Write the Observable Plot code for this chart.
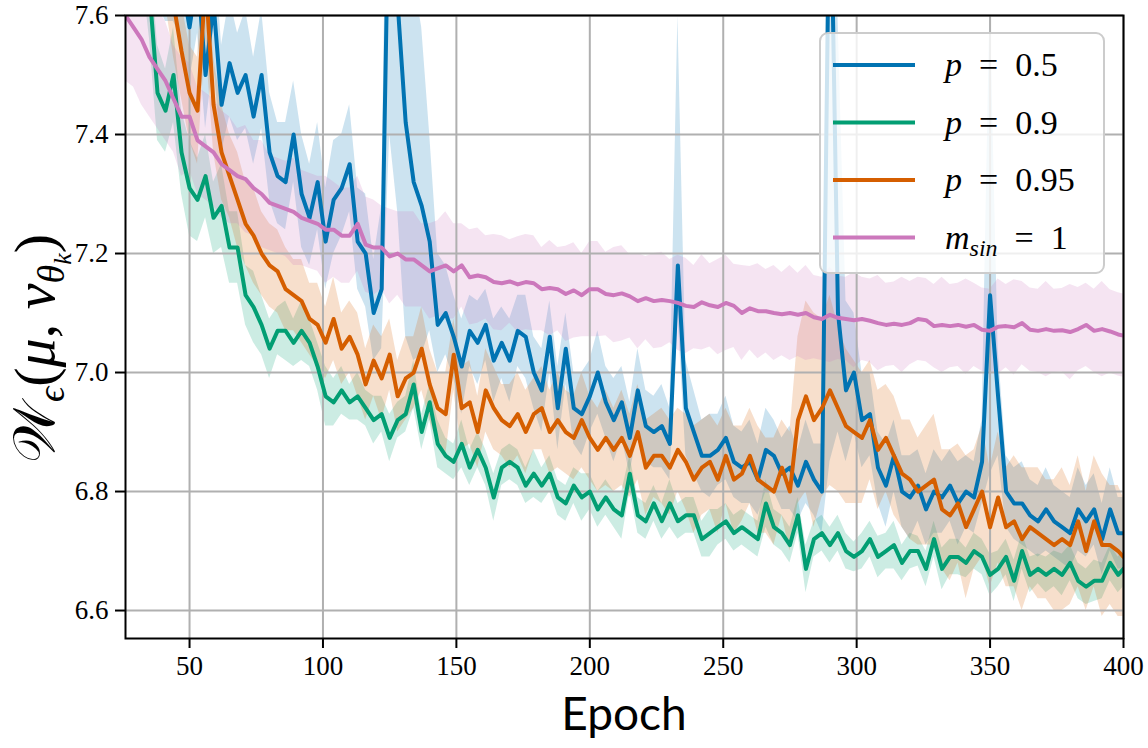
<!DOCTYPE html>
<html><head><meta charset="utf-8">
<script src="https://cdn.jsdelivr.net/npm/d3@7"></script>
<script src="https://cdn.jsdelivr.net/npm/@observablehq/plot@0.6"></script>
<style>body{margin:0;background:#fff}#chart{width:1148px;height:748px}</style>
</head><body><div id="chart"></div>
<script>
// epochs sampled every 3 epochs
const epochs = d3.range(26, 400, 3).concat([400]);

const xTicks = [50, 100, 150, 200, 250, 300, 350, 400];
const yTicks = [6.6, 6.8, 7.0, 7.2, 7.4, 7.6];

const names = ["p = 0.5", "p = 0.9", "p = 0.95", "m_sin = 1"];
const colors = ["#0173b2", "#029e73", "#d55e00", "#cc78bc"];
const legendVar = ["p", "p", "p", "m"];
const legendSub = ["", "", "", "sin"];
const legendVal = ["0.5", "0.9", "0.95", "1"];

const blueMean = [
7.85,7.80,7.78,7.75,7.72,7.70,7.69,7.66,7.58,7.67,
7.50,7.62,7.45,7.52,7.47,7.50,7.43,7.50,7.37,7.33,
7.32,7.40,7.30,7.26,7.32,7.22,7.29,7.31,7.35,7.22,
7.20,7.10,7.14,7.90,7.62,7.42,7.32,7.28,7.22,7.08,
7.10,7.06,7.01,7.07,7.05,7.08,7.02,7.05,7.02,7.07,
7.06,7.00,6.97,7.06,6.94,7.04,6.94,6.93,6.96,7.00,
6.95,6.92,6.95,6.89,6.97,6.91,6.90,6.91,6.88,7.18,
6.94,6.90,6.86,6.86,6.87,6.89,6.85,6.84,6.85,6.82,
6.87,6.86,6.83,6.84,6.81,6.85,6.82,6.80,7.90,7.10,
6.97,7.00,6.92,6.93,6.84,6.81,6.86,6.80,6.79,6.81,
6.77,6.80,6.79,6.81,6.78,6.80,6.79,6.85,7.13,6.96,
6.80,6.78,6.78,6.76,6.75,6.77,6.75,6.74,6.73,6.77,
6.75,6.77,6.72,6.77,6.73,6.73];
const blueHi = [
0.12,0.12,0.13,0.12,0.12,0.13,0.12,0.12,0.11,0.12,
0.11,0.12,0.10,0.11,0.10,0.11,0.10,0.11,0.10,0.09,
0.10,0.09,0.10,0.09,0.10,0.09,0.10,0.09,0.10,0.09,
0.10,0.09,0.14,0.30,0.30,0.36,0.34,0.30,0.18,0.12,
0.08,0.07,0.08,0.06,0.07,0.06,0.07,0.06,0.07,0.06,
0.07,0.06,0.07,0.06,0.07,0.06,0.06,0.07,0.06,0.07,
0.06,0.07,0.06,0.06,0.07,0.06,0.06,0.07,0.06,0.42,
0.08,0.07,0.06,0.07,0.06,0.07,0.06,0.06,0.07,0.06,
0.07,0.06,0.06,0.07,0.06,0.07,0.06,0.08,0.30,0.50,
0.15,0.10,0.08,0.07,0.06,0.07,0.06,0.06,0.07,0.06,
0.06,0.07,0.06,0.06,0.07,0.06,0.06,0.07,0.50,0.08,
0.06,0.06,0.07,0.06,0.06,0.07,0.06,0.06,0.06,0.07,
0.06,0.06,0.06,0.07,0.06,0.06];
const blueLo = [
0.10,0.10,0.11,0.10,0.10,0.11,0.10,0.10,0.09,0.10,
0.09,0.10,0.08,0.09,0.08,0.09,0.08,0.09,0.08,0.08,
0.08,0.08,0.09,0.08,0.08,0.08,0.09,0.08,0.08,0.08,
0.09,0.08,0.10,0.50,0.35,0.36,0.30,0.25,0.15,0.08,
0.07,0.07,0.08,0.06,0.07,0.06,0.07,0.06,0.07,0.06,
0.07,0.06,0.07,0.06,0.07,0.06,0.06,0.07,0.06,0.07,
0.06,0.07,0.06,0.06,0.07,0.06,0.06,0.07,0.06,0.08,
0.08,0.07,0.06,0.07,0.06,0.07,0.06,0.06,0.07,0.06,
0.07,0.06,0.06,0.07,0.06,0.07,0.06,0.07,1.05,0.20,
0.12,0.10,0.08,0.07,0.06,0.07,0.06,0.06,0.07,0.06,
0.06,0.07,0.06,0.06,0.07,0.06,0.06,0.07,0.30,0.10,
0.06,0.06,0.07,0.06,0.06,0.07,0.06,0.06,0.06,0.07,
0.06,0.06,0.06,0.07,0.06,0.06];

const greenMean = [
7.90,7.84,7.76,7.64,7.47,7.44,7.50,7.37,7.31,7.29,
7.33,7.26,7.28,7.21,7.21,7.13,7.11,7.08,7.04,7.07,
7.07,7.05,7.07,7.05,7.01,6.96,6.95,6.97,6.95,6.96,
6.94,6.92,6.93,6.89,6.92,6.93,6.98,6.90,6.95,6.88,
6.86,6.85,6.88,6.84,6.87,6.84,6.79,6.84,6.85,6.84,
6.81,6.83,6.81,6.83,6.79,6.78,6.81,6.79,6.80,6.77,
6.79,6.77,6.76,6.83,6.76,6.75,6.78,6.75,6.78,6.75,
6.76,6.76,6.72,6.73,6.74,6.75,6.73,6.74,6.73,6.72,
6.78,6.74,6.73,6.71,6.76,6.67,6.72,6.73,6.71,6.73,
6.70,6.69,6.70,6.72,6.69,6.70,6.71,6.68,6.70,6.70,
6.67,6.72,6.67,6.69,6.69,6.68,6.70,6.69,6.66,6.67,
6.69,6.65,6.70,6.66,6.67,6.66,6.67,6.66,6.68,6.65,
6.64,6.65,6.65,6.68,6.66,6.67];
const greenSpread = [
0.08,0.08,0.08,0.08,0.08,0.07,0.08,0.07,0.08,0.07,
0.07,0.06,0.07,0.06,0.06,0.05,0.06,0.05,0.05,0.04,
0.05,0.04,0.05,0.04,0.04,0.05,0.04,0.04,0.03,0.04,
0.03,0.04,0.03,0.04,0.03,0.03,0.04,0.03,0.03,0.04,
0.03,0.03,0.04,0.03,0.03,0.03,0.04,0.03,0.03,0.03,
0.03,0.04,0.03,0.03,0.03,0.03,0.03,0.04,0.03,0.03,
0.03,0.03,0.04,0.03,0.03,0.03,0.03,0.03,0.04,0.03,
0.03,0.03,0.03,0.04,0.03,0.03,0.03,0.03,0.03,0.03,
0.04,0.03,0.03,0.03,0.03,0.04,0.03,0.03,0.03,0.03,
0.03,0.025,0.03,0.03,0.035,0.03,0.04,0.03,0.03,0.025,
0.03,0.03,0.035,0.03,0.03,0.025,0.03,0.03,0.035,0.03,
0.03,0.035,0.03,0.03,0.025,0.03,0.03,0.035,0.03,0.03,
0.03,0.035,0.03,0.03,0.03,0.03];

const orangeMean = [
7.95,7.92,7.88,7.84,7.78,7.70,7.62,7.54,7.47,7.44,
7.66,7.45,7.37,7.33,7.29,7.25,7.23,7.20,7.18,7.17,
7.14,7.13,7.12,7.09,7.08,7.05,7.09,7.04,7.06,7.03,
6.98,7.02,6.99,7.03,6.96,6.99,7.00,7.04,6.98,6.94,
6.93,7.03,6.94,6.95,6.90,6.97,6.94,6.92,6.91,6.93,
6.90,6.93,6.94,6.90,6.92,6.90,6.89,6.92,6.89,6.87,
6.89,6.87,6.89,6.86,6.90,6.84,6.86,6.86,6.84,6.87,
6.85,6.82,6.84,6.85,6.82,6.86,6.82,6.83,6.86,6.82,
6.81,6.80,6.84,6.80,6.92,6.96,6.92,6.94,6.97,6.94,
6.91,6.90,6.89,6.92,6.87,6.89,6.86,6.83,6.82,6.80,
6.81,6.82,6.77,6.76,6.78,6.74,6.77,6.80,6.74,6.79,
6.74,6.75,6.72,6.74,6.73,6.72,6.71,6.72,6.71,6.75,
6.70,6.75,6.71,6.71,6.70,6.69];
const orangeSpread = [
0.09,0.09,0.09,0.09,0.09,0.08,0.09,0.08,0.08,0.09,
0.10,0.08,0.08,0.07,0.08,0.07,0.08,0.07,0.07,0.07,
0.07,0.06,0.07,0.06,0.07,0.06,0.07,0.06,0.06,0.07,
0.06,0.06,0.07,0.06,0.06,0.07,0.06,0.07,0.06,0.06,
0.07,0.06,0.07,0.07,0.06,0.07,0.07,0.06,0.07,0.07,
0.07,0.06,0.07,0.07,0.08,0.07,0.07,0.08,0.07,0.07,
0.08,0.07,0.08,0.07,0.08,0.08,0.07,0.08,0.08,0.07,
0.08,0.09,0.08,0.08,0.09,0.08,0.09,0.08,0.08,0.09,
0.08,0.09,0.08,0.10,0.14,0.16,0.18,0.15,0.16,0.14,
0.13,0.12,0.11,0.10,0.10,0.09,0.10,0.09,0.10,0.09,
0.10,0.11,0.10,0.11,0.10,0.12,0.10,0.11,0.10,0.11,
0.10,0.11,0.12,0.10,0.11,0.10,0.11,0.12,0.10,0.11,
0.10,0.11,0.12,0.10,0.11,0.10];

const pinkMean = [
7.60,7.58,7.56,7.53,7.51,7.49,7.46,7.43,7.43,7.39,
7.38,7.37,7.35,7.34,7.33,7.325,7.31,7.30,7.285,7.28,
7.275,7.27,7.26,7.255,7.25,7.24,7.24,7.23,7.23,7.25,
7.215,7.21,7.21,7.195,7.20,7.19,7.19,7.18,7.17,7.175,
7.18,7.17,7.18,7.16,7.163,7.16,7.152,7.15,7.153,7.148,
7.152,7.15,7.14,7.142,7.14,7.132,7.138,7.13,7.14,7.14,
7.132,7.13,7.133,7.128,7.12,7.125,7.12,7.122,7.12,7.117,
7.112,7.11,7.118,7.113,7.11,7.117,7.112,7.10,7.108,7.103,
7.103,7.10,7.098,7.10,7.097,7.10,7.093,7.09,7.097,7.092,
7.09,7.088,7.09,7.087,7.083,7.08,7.082,7.08,7.083,7.09,
7.088,7.078,7.08,7.078,7.08,7.077,7.08,7.072,7.07,7.077,
7.078,7.076,7.083,7.072,7.07,7.073,7.07,7.071,7.068,7.073,
7.08,7.07,7.073,7.069,7.064,7.062];
const pinkSpread = [
0.11,0.10,0.11,0.10,0.10,0.10,0.09,0.10,0.09,0.09,
0.09,0.09,0.09,0.09,0.08,0.09,0.08,0.09,0.08,0.08,
0.08,0.09,0.08,0.08,0.08,0.09,0.08,0.08,0.08,0.08,
0.08,0.08,0.07,0.08,0.07,0.08,0.08,0.07,0.08,0.08,
0.09,0.08,0.07,0.08,0.08,0.07,0.08,0.08,0.07,0.08,
0.08,0.08,0.07,0.08,0.07,0.08,0.08,0.07,0.08,0.08,
0.07,0.08,0.08,0.07,0.08,0.07,0.08,0.08,0.07,0.08,
0.08,0.07,0.08,0.07,0.08,0.08,0.07,0.08,0.07,0.08,
0.07,0.08,0.07,0.08,0.07,0.08,0.07,0.07,0.08,0.07,
0.07,0.08,0.07,0.07,0.08,0.07,0.07,0.08,0.07,0.07,
0.07,0.07,0.08,0.07,0.07,0.08,0.07,0.07,0.07,0.08,
0.07,0.08,0.07,0.07,0.07,0.08,0.07,0.07,0.08,0.07,
0.07,0.07,0.08,0.07,0.07,0.07];

function rows(mean, lo, hi) {
  return epochs.map((e, i) => ({epoch: e, v: mean[i], lo: mean[i] - lo[i], hi: mean[i] + hi[i]}));
}
const series = [
  rows(blueMean, blueLo, blueHi),
  rows(greenMean, greenSpread, greenSpread),
  rows(orangeMean, orangeSpread, orangeSpread),
  rows(pinkMean, pinkSpread, pinkSpread)
];

const plot = Plot.plot({
  width: 1148, height: 748,
  marginLeft: 125, marginRight: 25, marginTop: 15, marginBottom: 110,
  x: {domain: [26, 400]},
  y: {domain: [6.553, 7.6]},
  style: {fontFamily: "'Liberation Serif', serif", fontSize: "27px", color: "black", background: "white"},
  marks: [
    ...series.map((d, i) => Plot.areaY(d, {x: "epoch", y1: "lo", y2: "hi", fill: colors[i], fillOpacity: 0.2, clip: true})),
    Plot.gridX({ticks: xTicks, stroke: "#b0b0b0", strokeOpacity: 1, strokeWidth: 2}),
    Plot.gridY({ticks: yTicks, stroke: "#b0b0b0", strokeOpacity: 1, strokeWidth: 2}),
    ...series.map((d, i) => Plot.lineY(d, {x: "epoch", y: "v", stroke: colors[i], strokeWidth: 4, clip: true})),
    Plot.frame({stroke: "black", strokeWidth: 2}),
    Plot.axisX({ticks: xTicks, tickSize: 10, tickPadding: 7, fontSize: 27, fontFamily: "'Liberation Serif', serif", label: null, strokeWidth: 2, tickFormat: d => String(d)}),
    Plot.axisY({ticks: yTicks, tickSize: 10, tickPadding: 7, fontSize: 27, fontFamily: "'Liberation Serif', serif", label: null, strokeWidth: 2, tickFormat: d3.format(".1f")})
  ]
});
document.getElementById("chart").appendChild(plot);

const svg = d3.select(plot);
const xs = plot.scale("x"), ys = plot.scale("y");
const cx = (xs.range[0] + xs.range[1]) / 2;
const cy = (ys.range[0] + ys.range[1]) / 2;

// x label
svg.append("text").attr("x", cx).attr("y", 730).attr("text-anchor", "middle")
  .attr("font-family", "Lato, 'Open Sans', sans-serif").attr("font-size", 46).attr("fill", "black").text("Epoch");

// y label
const yl = svg.append("text").attr("transform", `translate(54,${cy + 22}) rotate(-90)`)
  .attr("text-anchor", "middle").attr("font-family", "'Liberation Serif', serif").attr("font-size", 58).attr("fill", "black");
yl.append("tspan").text("𝒲");
yl.append("tspan").attr("font-size", 38).attr("dy", 10).attr("font-style", "italic").text("ϵ");
yl.append("tspan").attr("dy", -10).text("(");
yl.append("tspan").attr("font-style", "italic").text("μ");
yl.append("tspan").text(", ");
yl.append("tspan").attr("font-style", "italic").text("ν");
yl.append("tspan").attr("font-size", 38).attr("dy", 10).attr("font-style", "italic").text("θ");
yl.append("tspan").attr("font-size", 26).attr("dy", 7).attr("font-style", "italic").text("k");
yl.append("tspan").attr("dy", -17).text(")");

// legend
const lg = svg.append("g");
lg.append("rect").attr("x", 820).attr("y", 33).attr("width", 284).attr("height", 240).attr("rx", 8)
  .attr("fill", "white").attr("fill-opacity", 0.8).attr("stroke", "#cccccc").attr("stroke-width", 2);
names.forEach((n, i) => {
  const yy = 65 + i * 57.5;
  lg.append("line").attr("x1", 833).attr("x2", 915).attr("y1", yy).attr("y2", yy)
    .attr("stroke", colors[i]).attr("stroke-width", 4);
  const t = lg.append("text").attr("x", 945).attr("y", yy + 11).attr("text-anchor", "start")
    .attr("font-family", "'Liberation Serif', serif").attr("font-size", 34).attr("fill", "black");
  t.append("tspan").attr("font-style", "italic").text(legendVar[i]);
  if (legendSub[i]) {
    t.append("tspan").attr("font-style", "italic").attr("font-size", 24).attr("dy", 7).text(legendSub[i]);
    t.append("tspan").attr("dy", -7).text("\u2002=\u2002" + legendVal[i]);
  } else {
    t.append("tspan").text("\u2002=\u2002" + legendVal[i]);
  }
});
</script>
</body></html>
